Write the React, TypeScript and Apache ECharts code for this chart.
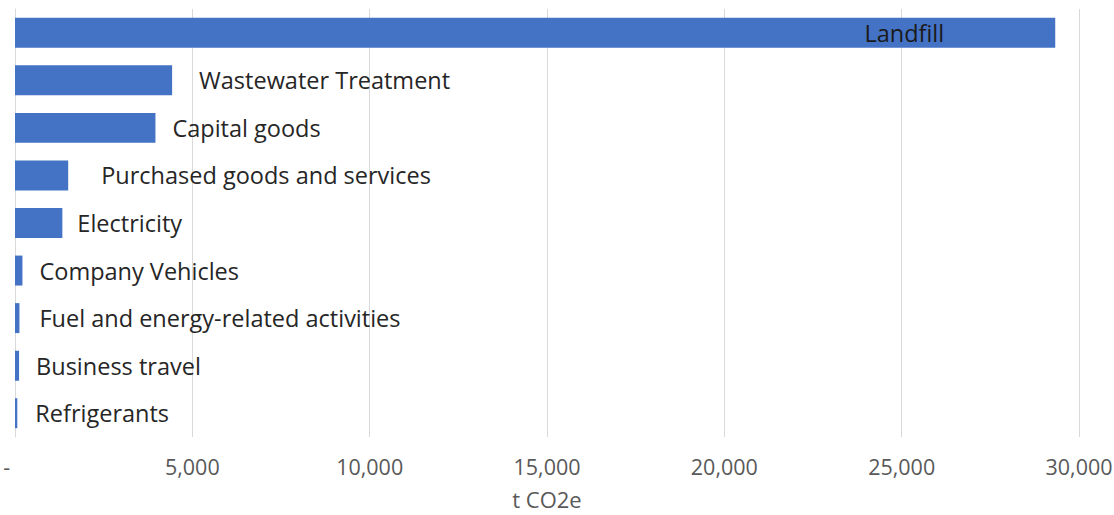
import React, { useEffect, useRef } from "react";
import * as echarts from "echarts";

const categories = [
  "Landfill",
  "Wastewater Treatment",
  "Capital goods",
  "Purchased goods and services",
  "Electricity",
  "Company Vehicles",
  "Fuel and energy-related activities",
  "Business travel",
  "Refrigerants",
];
const values = [29330, 4430, 3960, 1500, 1335, 210, 125, 115, 65];
// horizontal label shift (px) as placed in the original
const labelShift = [0, 22, 12, 28, 10, 12, 15, 12, 13];
const xTicks = [0, 5000, 10000, 15000, 20000, 25000, 30000];
const axisTitle = "t CO2e";

const FONT = "'Open Sans', sans-serif";

export default function App() {
  const ref = useRef<HTMLDivElement>(null);
  useEffect(() => {
    if (!ref.current) return;
    const chart = echarts.init(ref.current, undefined, { renderer: "svg" });
    const data = values.map((v, i) => {
      if (i === 0) {
        return {
          value: v,
          label: {
            show: true,
            position: "insideRight",
            offset: [-106, 0],
            color: "#1a1a1a",
          },
        };
      }
      return {
        value: v,
        label: { show: true, position: "right", offset: [labelShift[i], 0] },
      };
    });
    chart.setOption({
      animation: false,
      backgroundColor: "#ffffff",
      grid: {
        left: 15,
        right: 35,
        top: 9,
        bottom: 78,
        containLabel: false,
        outerBoundsMode: "none",
      },
      xAxis: {
        type: "value",
        min: xTicks[0],
        max: xTicks[xTicks.length - 1],
        interval: xTicks[1] - xTicks[0],
        axisLine: { show: false },
        axisTick: { show: false },
        splitLine: { show: true, lineStyle: { color: "#d9d9d9", width: 1 } },
        axisLabel: {
          color: "#595959",
          fontFamily: FONT,
          fontSize: 21.5,
          margin: 18,
          formatter: (v: number) => (v === 0 ? "-   " : v.toLocaleString("en-US")),
        },
        name: axisTitle,
        nameLocation: "middle",
        nameGap: 53,
        nameTextStyle: {
          color: "#595959",
          fontFamily: FONT,
          fontSize: 22,
          lineHeight: 17,
        },
      },
      yAxis: {
        type: "category",
        data: categories,
        inverse: true,
        axisLine: { show: true, lineStyle: { color: "#d9d9d9", width: 1 } },
        axisTick: { show: false },
        axisLabel: { show: false },
      },
      series: [
        {
          type: "bar",
          data,
          barCategoryGap: "37%",
          itemStyle: { color: "#4472C4" },
          label: {
            show: true,
            formatter: (p: any) => categories[p.dataIndex],
            color: "#262626",
            fontFamily: FONT,
            fontSize: 23.5,
          },
        },
      ],
    });
    return () => chart.dispose();
  }, []);
  return (
    <div
      ref={ref}
      style={{ position: "fixed", left: 0, top: 0, width: 1114, height: 515 }}
    />
  );
}
